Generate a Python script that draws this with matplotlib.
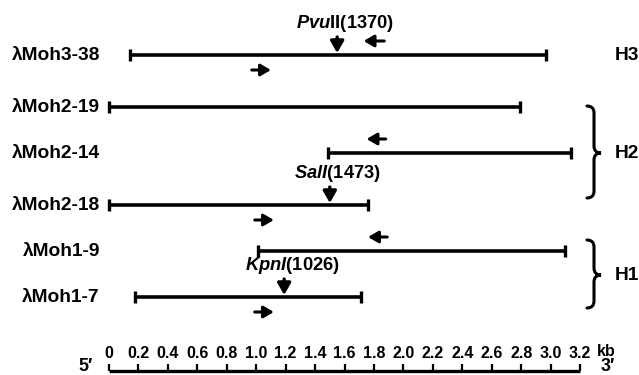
import matplotlib
matplotlib.use("Agg")
import matplotlib.pyplot as plt
from matplotlib.path import Path
from matplotlib.patches import PathPatch

plt.rcParams['font.family'] = ['Liberation Sans', 'DejaVu Sans']
plt.rcParams['font.weight'] = 'bold'
plt.rcParams['mathtext.fontset'] = 'custom'
plt.rcParams['mathtext.it'] = 'Liberation Sans:italic:bold'
plt.rcParams['mathtext.rm'] = 'Liberation Sans:bold'

# clones (kb from the 5' end of the map)
clones = ["λMoh3-38", "λMoh2-19", "λMoh2-14", "λMoh2-18", "λMoh1-9", "λMoh1-7"]
starts = [0.14, 0.0, 1.49, 0.0, 1.01, 0.18]
ends = [2.97, 2.79, 3.14, 1.76, 3.10, 1.71]

# primer arrows: (row, tail kb, head kb)
fwd_primers = [(0, 0.97, 1.10), (3, 0.99, 1.12), (5, 0.99, 1.12)]
rev_primers = [(0, 1.87, 1.73), (2, 1.88, 1.75), (4, 1.89, 1.76)]

# restriction sites: (row, kb, label)
sites = [(0, 1.55, r"$\mathit{Pvu}$II(1370)"),
         (3, 1.50, r"$\mathit{SalI}$(1473)"),
         (5, 1.19, r"$\mathit{KpnI}$(1026)")]

# groups: (first row, last row, label)
groups = [(0, 0, "H3"), (1, 3, "H2"), (4, 5, "H1")]

scale_ticks = [0, 0.2, 0.4, 0.6, 0.8, 1.0, 1.2, 1.4, 1.6, 1.8, 2.0, 2.2, 2.4,
               2.6, 2.8, 3.0, 3.2]

# layout (pixel rows, origin top-left)
row_y = [55, 107, 153, 205, 251, 297]
brace_span = {"H2": (106, 198, 153), "H1": (240, 308, 275)}
x0_px = 109.0
px_per_kb = 147.2


def dx(px):
    return px / px_per_kb


fig = plt.figure(figsize=(6.39, 3.75), dpi=100)
ax = fig.add_axes([0, 0, 1, 1])
ax.set_xlim(-x0_px / px_per_kb, (639 - x0_px) / px_per_kb)
ax.set_ylim(375, 0)
ax.axis("off")

fs = 13.8

# clone lines with end bars
for i, name in enumerate(clones):
    y = row_y[i]
    ax.plot([starts[i], ends[i]], [y, y], color="black", lw=2.6,
            solid_capstyle="butt")
    ax.plot([starts[i], ends[i]], [y, y], ls="none", marker="|",
            ms=9, mew=2.4, color="black")
    ax.text(dx(100 - x0_px), y, name, ha="right", va="center", fontsize=fs)

# primer arrows
for row, tail, head in fwd_primers:
    y = row_y[row] + 15
    ax.annotate("", xy=(head, y), xytext=(tail, y),
                arrowprops=dict(arrowstyle="-|>,head_length=0.6,head_width=0.35",
                                lw=2.2, color="black", shrinkA=0, shrinkB=0,
                                mutation_scale=10))
for row, tail, head in rev_primers:
    y = row_y[row] - 14
    ax.annotate("", xy=(head, y), xytext=(tail, y),
                arrowprops=dict(arrowstyle="-|>,head_length=0.6,head_width=0.35",
                                lw=2.2, color="black", shrinkA=0, shrinkB=0,
                                mutation_scale=10))

# restriction sites
for row, pos, label in sites:
    y = row_y[row]
    ax.annotate("", xy=(pos, y - 2), xytext=(pos, y - 18),
                arrowprops=dict(arrowstyle="-|>,head_length=0.7,head_width=0.4",
                                lw=2.4, color="black", shrinkA=0, shrinkB=0,
                                mutation_scale=10))
    ax.text(pos + dx(8), y - 31, label, ha="center", va="center", fontsize=13.2)


# braces and group labels
def brace(ytop, ybot, ymid):
    xe, xb, xt, r = 587, 594, 601, 7
    pts = [(xe, ytop), (xb, ytop), (xb, ytop + r),
           (xb, ymid - r), (xb, ymid), (xt, ymid),
           (xb, ymid), (xb, ymid + r),
           (xb, ybot - r), (xb, ybot), (xe, ybot)]
    codes = [Path.MOVETO, Path.CURVE3, Path.CURVE3,
             Path.LINETO, Path.CURVE3, Path.CURVE3,
             Path.CURVE3, Path.CURVE3,
             Path.LINETO, Path.CURVE3, Path.CURVE3]
    verts = [((x - x0_px) / px_per_kb, yy) for x, yy in pts]
    ax.add_patch(PathPatch(Path(verts, codes), fill=False, lw=2.2,
                           edgecolor="black", capstyle="round"))


label_x = dx(615 - x0_px)
for first, last, label in groups:
    if first == last:
        ax.text(label_x, row_y[first], label, ha="left", va="center", fontsize=fs)
    else:
        ytop, ybot, ymid = brace_span[label]
        brace(ytop, ybot, ymid)
        ax.text(label_x, ymid + 1, label, ha="left", va="center", fontsize=fs)

# scale bar
bar_y = 371
ax.plot([scale_ticks[0], scale_ticks[-1]], [bar_y, bar_y], color="black",
        lw=2.4, solid_capstyle="butt")
ax.vlines(scale_ticks, bar_y, bar_y - 7, color="black", lw=1.6)
for t in scale_ticks:
    ax.text(t, bar_y - 18, "%g" % t if t == 0 else "%.1f" % t,
            ha="center", va="center", fontsize=11.5)
ax.text(dx(606 - x0_px), bar_y - 20, "kb", ha="center", va="center", fontsize=11.5)
ax.text(dx(86 - x0_px), 371, "5′", ha="center", va="baseline", fontsize=13)
ax.text(dx(608 - x0_px), 371, "3′", ha="center", va="baseline", fontsize=13)

fig.savefig("out.png", dpi=100)
